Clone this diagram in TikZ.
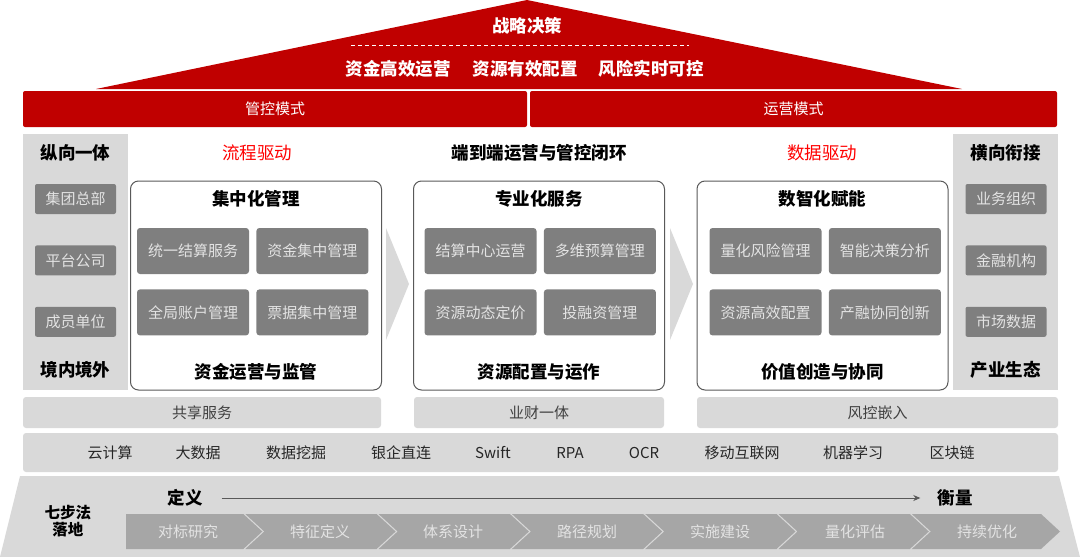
\documentclass[tikz,border=0pt]{standalone}
\usepackage{fontspec}
\setmainfont{Noto Sans CJK SC}
\usetikzlibrary{positioning, arrows.meta}

\definecolor{roofred}{HTML}{C00000}
\definecolor{hotred}{HTML}{FF0000}
\definecolor{paleg}{HTML}{D9D9D9}
\definecolor{midg}{HTML}{7F7F7F}
\definecolor{stepg}{HTML}{A6A6A6}
\definecolor{frameg}{HTML}{595959}
\definecolor{inkg}{HTML}{404040}
\definecolor{softw}{HTML}{E3E3E3}

\newcommand\bigfont{\fontsize{17.5}{20}\selectfont\bfseries}
\newcommand\midfont{\fontsize{15}{17}\selectfont}

\begin{document}
\begin{tikzpicture}[x=1pt, y=-1pt, inner sep=0pt,
  roof text/.style={text=white, font=\bigfont},
  bar/.style={fill=roofred, rounded corners=2pt, minimum height=36pt, text=white, font=\midfont},
  side/.style={fill=paleg, minimum width=105pt, minimum height=256pt},
  tag/.style={fill=midg, rounded corners=2pt, minimum width=81pt, minimum height=30pt, text=softw, font=\midfont},
  head/.style={text=black, font=\bigfont},
  hot/.style={text=hotred, font=\fontsize{17.5}{20}\selectfont},
  panel/.style={draw=frameg, line width=1pt, rounded corners=8pt, minimum width=251pt, minimum height=209pt},
  cell/.style={fill=midg, rounded corners=3pt, minimum width=112pt, minimum height=46pt, text=softw, font=\midfont},
  band/.style={fill=paleg, rounded corners=3pt, minimum height=31pt, text=inkg, font=\midfont},
  tech/.style={text=black!85, font=\midfont},
  steptext/.style={text=softw, font=\midfont},
  flowline/.style={draw=frameg, line width=0.8pt, -{Stealth[length=7pt, width=6pt]}}
]
\useasboundingbox (0,0) rectangle (1080,557);

% roof
\coordinate (eaveL) at (96,89);
\coordinate (eaveR) at (962,89);
\coordinate (apex) at (527,0);
\fill[roofred] (eaveL) -- (apex) -- (eaveR) -- cycle;
\node[roof text] (strategy) at (527,26) {战略决策};
\coordinate (dashL) at (351,45);
\coordinate (dashR) at (689,45);
\draw[white, line width=0.8pt, dash pattern=on 4pt off 3pt] (dashL) -- (dashR);
\node[roof text] (goal1) at (398,69) {资金高效运营};
\node[roof text] (goal2) at (525,69) {资源有效配置};
\node[roof text] (goal3) at (651,69) {风险实时可控};

% modes
\node[bar, minimum width=504pt] (ctrl) at (275,109) {管控模式};
\node[bar, minimum width=527pt] (oper) at (793.5,109) {运营模式};

% side columns
\node[side] (vert) at (75.5,262) {};
\node[head] (vertTop) at (75.5,153) {纵向一体};
\node[tag] (hq) at (75.5,199) {集团总部};
\node[tag, below=31pt of hq] (plat) {平台公司};
\node[tag, below=31pt of plat] (member) {成员单位};
\node[head] (vertBot) at (75.5,370) {境内境外};

\node[side] (horz) at (1005.5,262) {};
\node[head] (horzTop) at (1005.5,153) {横向衔接};
\node[tag] (biz) at (1006,199) {业务组织};
\node[tag, below=31pt of biz] (inst) {金融机构};
\node[tag, below=31pt of inst] (market) {市场数据};
\node[head] (horzBot) at (1005.5,370) {产业生态};

% drivers
\node[hot] (flow) at (257,153) {流程驱动};
\node[head] (loop) at (539,153) {端到端运营与管控闭环};
\node[hot] (data) at (822,153) {数据驱动};

% panels
\node[panel] (pnlA) at (256,285.5) {};
\node[head] (pnlAtop) at (256,199) {集中化管理};
\node[cell] (a1) at (193,251) {统一结算服务};
\node[cell, right=7pt of a1] (a2) {资金集中管理};
\node[cell, below=15pt of a1] (a3) {全局账户管理};
\node[cell, right=7pt of a3] (a4) {票据集中管理};
\node[head] (pnlAbot) at (256,372) {资金运营与监管};

\node[panel] (pnlB) at (539,285.5) {};
\node[head] (pnlBtop) at (539,199) {专业化服务};
\node[cell] (b1) at (480.5,251) {结算中心运营};
\node[cell, right=7pt of b1] (b2) {多维预算管理};
\node[cell, below=15pt of b1] (b3) {资源动态定价};
\node[cell, right=7pt of b3] (b4) {投融资管理};
\node[head] (pnlBbot) at (539,372) {资源配置与运作};

\node[panel] (pnlC) at (822.5,285.5) {};
\node[head] (pnlCtop) at (822.5,199) {数智化赋能};
\node[cell] (c1) at (765.5,251) {量化风险管理};
\node[cell, right=7pt of c1] (c2) {智能决策分析};
\node[cell, below=15pt of c1] (c3) {资源高效配置};
\node[cell, right=7pt of c3] (c4) {产融协同创新};
\node[head] (pnlCbot) at (822.5,372) {价值创造与协同};

% big arrows between panels
\fill[paleg] (386,228) -- (409,284) -- (386,340) -- cycle;
\fill[paleg] (670,228) -- (693,284) -- (670,340) -- cycle;

% bands
\node[band, minimum width=358pt] (share) at (202,412.5) {共享服务};
\node[band, minimum width=250pt] (fusion) at (539,412.5) {业财一体};
\node[band, minimum width=361pt] (riskemb) at (877.5,412.5) {风控嵌入};
\node[band, minimum width=1035pt, minimum height=39pt] (techbar) at (540.5,452.5) {};
\foreach \lbl/\x [count=\i] in {云计算/110, 大数据/198, 数据挖掘/296, 银企直连/401, Swift/493, RPA/570, OCR/644, 移动互联网/742, 机器学习/853, 区块链/952}
  \node[tech] (tech\i) at (\x,453) {\lbl};

% seven steps
\fill[paleg] (20,476) -- (1059,476) -- (1080,557) -- (0,557) -- cycle;
\node[head, font=\fontsize{15.5}{17}\selectfont\bfseries, align=center] (seven) at (68,521) {七步法\\落地};
\node[head] (define) at (185,498) {定义};
\node[head] (gauge) at (955,498) {衡量};
\draw[flowline, shorten <=19pt, shorten >=17pt] (define) -- (gauge);
\foreach \lbl/\cx [count=\i] in {对标研究/188, 特征定义/320, 体系设计/453, 路径规划/587, 实施建设/720, 量化评估/855, 持续优化/987}{
  \pgfmathsetmacro\L{\i==1 ? 126 : 112+133.3*(\i-1)}
  \pgfmathsetmacro\R{min(112+133.3*\i-2, 1041)}
  \pgfmathsetmacro\N{\i==1 ? 0 : 19}
  \fill[stepg] (\L,514) -- (\R,514) -- (\R+19,531.5) -- (\R,549) -- (\L,549) -- (\L+\N,531.5) -- cycle;
  \node[steptext] (step\i) at (\cx,531.5) {\lbl};
}
\end{tikzpicture}
\end{document}
